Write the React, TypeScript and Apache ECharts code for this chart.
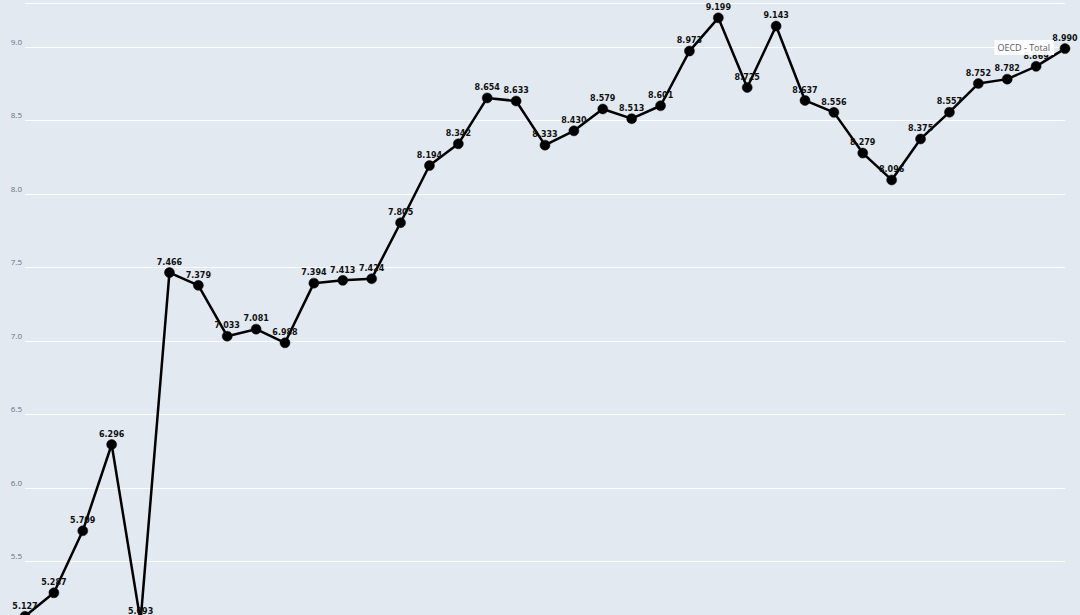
import React, { useEffect, useRef } from "react";
import * as echarts from "echarts";

const years: string[] = [
  "1985","1986","1987","1988","1989","1990","1991","1992","1993","1994",
  "1995","1996","1997","1998","1999","2000","2001","2002","2003","2004",
  "2005","2006","2007","2008","2009","2010","2011","2012","2013","2014",
  "2015","2016","2017","2018","2019","2020","2021",
];

const oecdTotal: number[] = [
  5.127, 5.287, 5.709, 6.296, 5.093, 7.466, 7.379, 7.033, 7.081, 6.988,
  7.394, 7.413, 7.424, 7.805, 8.194, 8.342, 8.654, 8.633, 8.333, 8.43,
  8.579, 8.513, 8.601, 8.973, 9.199, 8.725, 9.143, 8.637, 8.556, 8.279,
  8.096, 8.375, 8.557, 8.752, 8.782, 8.869, 8.99,
];

const seriesName = "OECD - Total";

export default function App() {
  const ref = useRef<HTMLDivElement>(null);
  useEffect(() => {
    if (!ref.current) return;
    const chart = echarts.init(ref.current, undefined, { renderer: "svg" });
    chart.setOption({
      animation: false,
      backgroundColor: "#e2e9f1",
      grid: { left: 25, right: 15, top: 3, bottom: 45 },
      legend: {
        show: true,
        right: 26,
        top: 40,
        icon: "none",
        itemWidth: 0,
        itemHeight: 0,
        z: 10,
        backgroundColor: "rgba(255,255,255,0.9)",
        padding: [3, 4, 3, -2],
        textStyle: { fontSize: 9, color: "#5a5a5a", fontFamily: "Open Sans" },
        data: [seriesName],
      },
      xAxis: {
        type: "category",
        data: years,
        boundaryGap: false,
        axisLine: { show: false },
        axisTick: { show: false },
        axisLabel: { show: false },
        splitLine: { show: false },
      },
      yAxis: {
        type: "value",
        min: 5.0,
        max: 9.3,
        interval: 0.5,
        axisLine: { show: false },
        axisTick: { show: false },
        axisLabel: {
          showMaxLabel: false,
          margin: 3,
          verticalAlign: "bottom",
          padding: [0, 0, 2, 0],
          fontSize: 8,
          color: "#66727f",
          fontFamily: "Open Sans",
          formatter: (v: number) => v.toFixed(1),
        },
        splitLine: { show: true, lineStyle: { color: "#ffffff", width: 1 } },
      },
      series: [
        {
          name: seriesName,
          type: "line",
          data: oecdTotal,
          clip: false,
          z: 2,
          symbol: "circle",
          symbolSize: 10,
          lineStyle: { color: "#000000", width: 2.5 },
          itemStyle: { color: "#000000", borderColor: "#111111", borderWidth: 0.5 },
          label: {
            show: true,
            position: "top",
            distance: 1,
            fontSize: 8,
            fontWeight: "bold",
            color: "#111111",
            fontFamily: "DejaVu Sans",
            formatter: (p: any) => Number(p.value).toFixed(3),
          },
        },
      ],
    });
    return () => chart.dispose();
  }, []);
  return (
    <div
      ref={ref}
      style={{ position: "fixed", left: 0, top: 0, width: 1080, height: 680 }}
    />
  );
}
